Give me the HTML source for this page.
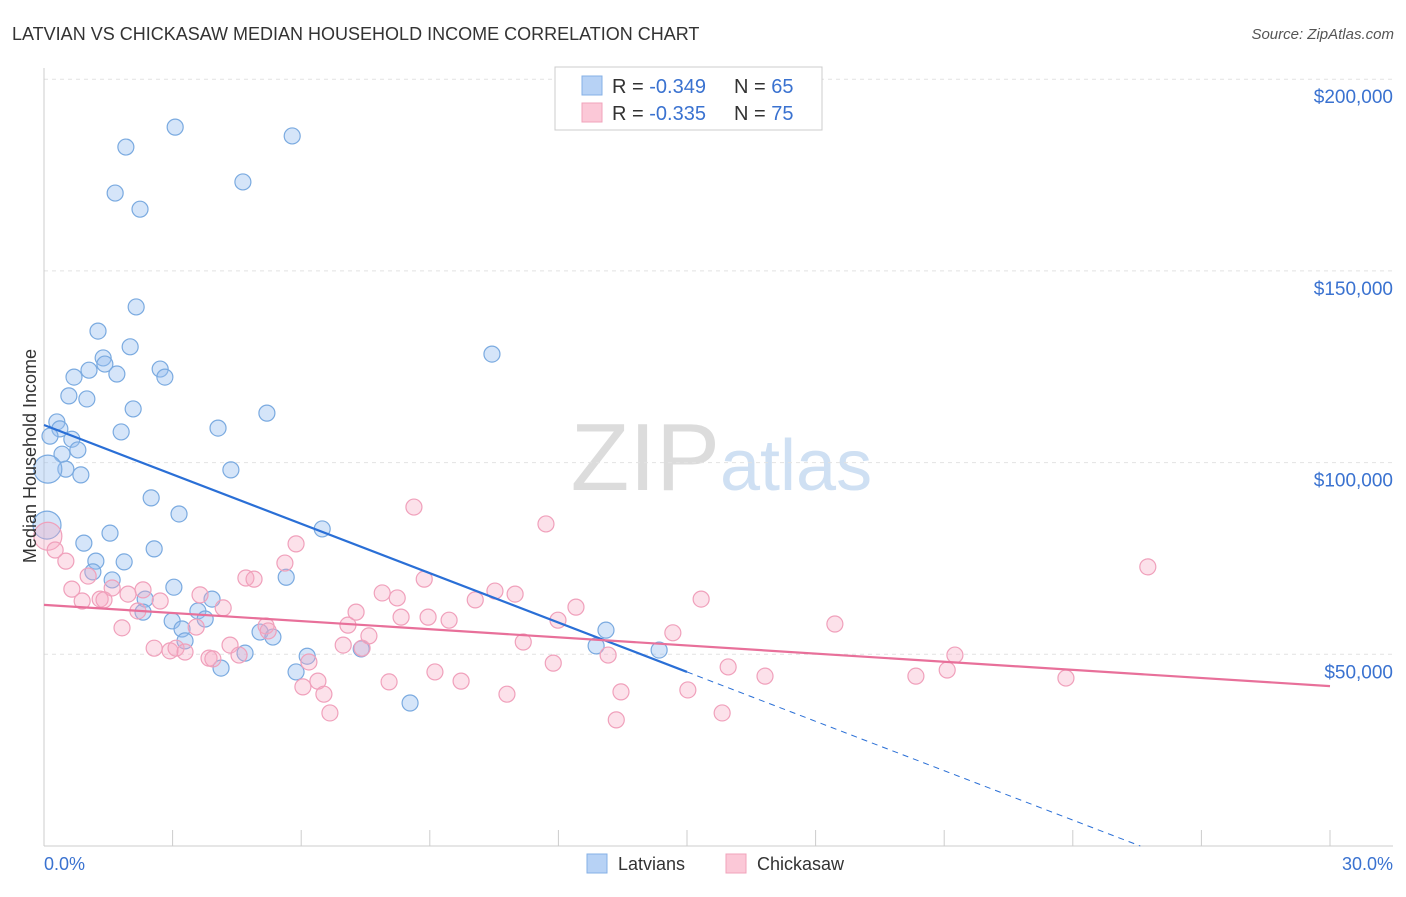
<!DOCTYPE html>
<html><head><meta charset="utf-8"><style>
body{margin:0;background:#fff;font-family:"Liberation Sans",sans-serif;}
svg text{font-family:"Liberation Sans",sans-serif;}
</style></head><body>
<svg id="chart" width="1406" height="892" xmlns="http://www.w3.org/2000/svg">
<text x="12" y="40" font-size="18" fill="#333">LATVIAN VS CHICKASAW MEDIAN HOUSEHOLD INCOME CORRELATION CHART</text>
<text x="1394" y="39" font-size="15" fill="#555" font-style="italic" text-anchor="end">Source: ZipAtlas.com</text>
<text x="720" y="490" font-size="96" fill="#dcdcdc" text-anchor="end" font-family="Liberation Serif">ZIP</text>
<text x="720" y="490" font-size="72" fill="#cfe0f3">atlas</text>
<g id="grid"></g><g id="axes"></g><g id="pts"></g><g id="lines"></g>
<text x="36" y="456" font-size="18" fill="#333" text-anchor="middle" transform="rotate(-90 36 456)">Median Household Income</text>
<text x="44" y="870" font-size="18" fill="#3a72d0">0.0%</text>
<text x="1393" y="870" font-size="18" fill="#3a72d0" text-anchor="end">30.0%</text>
<g>
<rect x="555" y="67" width="267" height="63" fill="#fff" stroke="#ccc"/>
<rect x="582" y="76" width="20" height="19" fill="#b7d2f5" stroke="#86b0e6"/>
<rect x="582" y="103" width="20" height="19" fill="#fbc8d7" stroke="#f0a3bb"/>
<text x="612" y="93" font-size="20" fill="#333">R = <tspan fill="#3a72d0">-0.349</tspan></text>
<text x="734" y="93" font-size="20" fill="#333">N = <tspan fill="#3a72d0">65</tspan></text>
<text x="612" y="120" font-size="20" fill="#333">R = <tspan fill="#3a72d0">-0.335</tspan></text>
<text x="734" y="120" font-size="20" fill="#333">N = <tspan fill="#3a72d0">75</tspan></text>
</g>
<g>
<rect x="587" y="854" width="20" height="19" fill="#b7d2f5" stroke="#86b0e6"/>
<text x="618" y="870" font-size="18" fill="#333">Latvians</text>
<rect x="726" y="854" width="20" height="19" fill="#fbc8d7" stroke="#f0a3bb"/>
<text x="757" y="870" font-size="18" fill="#333">Chickasaw</text>
</g>
</svg>
<script>
const yTicks=[50000,100000,150000,200000];
const yTickLabels=["$50,000","$100,000","$150,000","$200,000"];
const xTicks=[0,3,6,9,12,15,18,21,24,27,30];
const latX=[1.91,3.06,5.79,1.66,2.24,4.64,2.15,1.26,2.01,1.38,1.42,1.05,0.70,1.70,2.71,2.82,0.58,1.00,2.08,5.20,0.30,0.37,1.80,4.06,0.65,0.14,0.79,0.42,0.51,0.86,4.36,10.45,2.50,3.15,6.49,1.54,0.93,2.57,1.21,1.87,1.14,1.59,5.65,3.03,2.36,3.92,2.31,3.59,2.99,3.76,3.22,5.04,5.34,3.29,4.69,6.14,7.40,5.88,4.13,8.54,13.11,12.88,14.35,0.09,0.07];
const latY=[182.3,187.5,185.2,170.3,166.1,173.2,140.6,134.3,130.2,127.3,125.7,124.1,122.3,123.1,124.4,122.3,117.4,116.6,114.0,112.9,110.6,108.8,108.0,109.0,106.1,106.9,103.3,102.2,98.3,96.8,98.1,128.3,90.8,86.6,82.7,81.6,79.0,77.5,74.3,74.1,71.5,69.4,70.1,67.5,64.4,64.4,61.0,61.3,58.7,59.2,56.6,55.8,54.5,53.5,50.3,49.5,51.4,45.4,46.4,37.3,56.3,52.2,51.1,98.3,83.7];
const chiX=[0.09,0.26,0.51,1.03,0.65,0.89,1.31,1.40,1.59,1.96,1.82,2.19,2.31,2.71,2.57,2.94,3.08,3.29,3.55,3.64,4.18,3.85,3.94,4.34,4.55,4.71,4.90,5.18,5.23,5.62,5.88,6.18,6.04,6.39,6.53,6.67,7.09,7.28,6.98,7.42,7.58,7.89,8.24,8.33,8.63,8.87,8.96,9.45,9.12,9.73,8.05,10.06,10.52,10.99,11.18,10.80,11.71,11.99,11.88,12.41,13.16,13.46,13.35,14.67,15.33,15.02,15.82,15.96,16.82,18.45,20.34,21.07,21.25,23.84,25.75];
const chiY=[80.8,77.2,74.3,70.4,67.0,63.9,64.4,64.2,67.3,65.7,56.9,61.3,66.8,63.9,51.6,50.9,51.6,50.6,57.1,65.5,62.1,49.0,48.8,52.4,49.8,69.9,69.6,57.4,56.1,73.8,78.8,48.0,41.5,43.0,39.6,34.7,57.6,61.0,52.4,51.6,54.8,66.0,64.7,59.7,88.4,69.6,59.7,58.9,45.4,43.0,42.8,64.2,66.5,65.7,53.2,39.6,84.0,58.9,47.7,62.3,49.8,40.2,32.9,55.6,64.4,40.7,34.7,46.7,44.3,57.9,44.3,45.9,49.8,43.8,72.8];
const latTrend=[109.8,45.4]; // at x=0 and x=15
const chiTrend=[62.9,41.7];  // at x=0 and x=30
const NS="http://www.w3.org/2000/svg";
const X=v=>44+v*(1286/30);
const Y=v=>846-v/50000*191.7;
const Yk=v=>Y(v*1000);
function mk(p,t,a){const e=document.createElementNS(NS,t);for(const k in a)e.setAttribute(k,a[k]);document.getElementById(p).appendChild(e);return e;}
yTicks.forEach((t,i)=>{
 const l=mk('grid','line',{x1:44,x2:1393,y1:Y(t),y2:Y(t),stroke:'#e2e2e2','stroke-dasharray':'4,4'});
 
 
 const tx=mk('grid','text',{x:1393,y:Y(t)+24,'font-size':19,fill:'#3a72d0','text-anchor':'end'});
 tx.textContent=yTickLabels[i];
 
 
});
const ax=mk('axes','line',{x1:44,x2:44,y1:68,y2:846,stroke:'#ccc'});


const bx=mk('axes','line',{x1:44,x2:1393,y1:846,y2:846,stroke:'#ccc'});


xTicks.forEach(t=>{
 const l=mk('axes','line',{x1:X(t),x2:X(t),y1:830,y2:846,stroke:'#ccc'});
 
 
});
function pts(xs,ys,fill,stroke,name){
 xs.forEach((x,i)=>{
  const big=x<0.12;
  const c=mk('pts','circle',{cx:X(x),cy:Yk(ys[i]),r:big?14:8,fill:fill,stroke:stroke,'stroke-width':1.2});
  
  
 });
}
pts(latX,latY,'rgba(150,190,240,0.4)','#7aaae0','latvians-point');
pts(chiX,chiY,'rgba(245,170,195,0.35)','#f0a0bb','chickasaw-point');
const s=(latTrend[1]-latTrend[0])/15, x0=-latTrend[0]/s;
const l1=mk('lines','line',{x1:X(0),y1:Yk(latTrend[0]),x2:X(15),y2:Yk(latTrend[1]),stroke:'#2a6fd6','stroke-width':2.2});


const l2=mk('lines','line',{x1:X(15),y1:Yk(latTrend[1]),x2:X(x0),y2:Yk(0),stroke:'#2a6fd6','stroke-width':1,'stroke-dasharray':'6,5'});


const l3=mk('lines','line',{x1:X(0),y1:Yk(chiTrend[0]),x2:X(30),y2:Yk(chiTrend[1]),stroke:'#e8709a','stroke-width':2.2});


</script>
</body></html>
